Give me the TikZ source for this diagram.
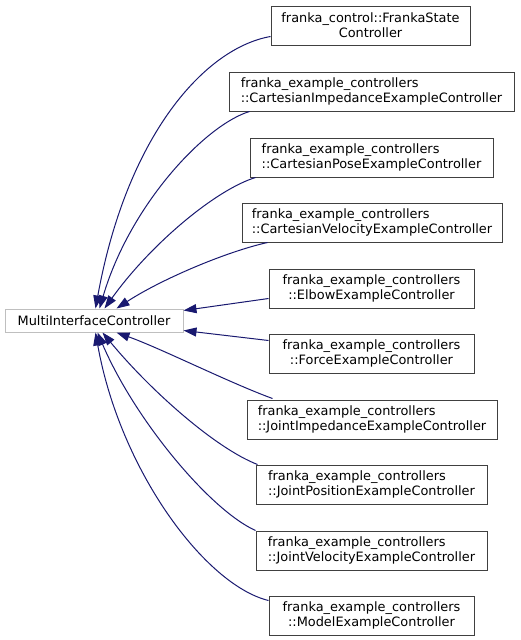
\documentclass[tikz,border=0pt]{standalone}
\usepackage{fontspec}
\setmainfont{DejaVu Sans}
\usetikzlibrary{arrows.meta,calc}
\definecolor{edgeblue}{HTML}{191970}
\definecolor{boxgray}{HTML}{404040}
\definecolor{extgray}{HTML}{BFBFBF}
\begin{document}
\begin{tikzpicture}[x=1pt,y=-1pt,
  every node/.style={font=\fontsize{12.9}{15}\selectfont},
  cls/.style={draw=boxgray,line width=1pt,fill=white,inner sep=0pt,minimum height=39pt,align=center},
  clsl/.style={cls,align=left},
  base/.style={draw=extgray,line width=1pt,fill=white,inner sep=0pt,minimum height=23pt,minimum width=178pt},
  edge/.style={draw=edgeblue,line width=1pt,-{Triangle[length=13pt,width=9pt]}}]
\useasboundingbox[fill=white] (0,0) rectangle (520,640);

\node[base] (L) at (94,320.5) {MultiInterfaceController};

\node[cls,minimum width=199pt] (n1) at (370.5,25.5) {franka\_control::FrankaState\\Controller};
\node[clsl,minimum width=285pt] (n2) at (371.5,91.5) {franka\_example\_controllers\\::CartesianImpedanceExampleController};
\node[clsl,minimum width=243pt] (n3) at (371.5,157.5) {franka\_example\_controllers\\::CartesianPoseExampleController};
\node[clsl,minimum width=260pt] (n4) at (372,222.5) {franka\_example\_controllers\\::CartesianVelocityExampleController};
\node[cls,minimum width=205pt] (n5) at (371.5,288.5) {franka\_example\_controllers\\::ElbowExampleController};
\node[cls,minimum width=205pt] (n6) at (371.5,353.5) {franka\_example\_controllers\\::ForceExampleController};
\node[clsl,minimum width=250pt] (n7) at (372,419.5) {franka\_example\_controllers\\::JointImpedanceExampleController};
\node[clsl,minimum width=231pt] (n8) at (371.5,484.5) {franka\_example\_controllers\\::JointPositionExampleController};
\node[clsl,minimum width=231pt] (n9) at (371.5,550.5) {franka\_example\_controllers\\::JointVelocityExampleController};
\node[cls,minimum width=205pt] (n10) at (371.5,615.5) {franka\_example\_controllers\\::ModelExampleController};

\draw[edge] ($(n1.north west)+(0,31)$) .. controls (205,48) and (127,135) .. ($(L.north west)+(91,0)$);
\draw[edge] ($(n2.south west)+(21,0)$) .. controls (205,125) and (130,205) .. ($(L.north west)+(95,0)$);
\draw[edge] ($(n3.south west)+(6,0)$) .. controls (215,190) and (150,245) .. ($(L.north west)+(100,0)$);
\draw[edge] ($(n4.south west)+(26,0)$) .. controls (225,252) and (160,280) .. ($(L.north west)+(112,0)$);
\draw[edge] ($(n5.north west)+(0,30)$) -- ($(L.north east)+(0,2)$);
\draw[edge] ($(n6.north west)+(0,7)$) -- ($(L.south east)+(0,-2)$);
\draw[edge] ($(n7.north west)+(26,-1)$) .. controls (230,383) and (160,348) .. ($(L.south west)+(112,0)$);
\draw[edge] ($(n8.north west)+(2,0)$) .. controls (215,448) and (150,390) .. ($(L.south west)+(98,0)$);
\draw[edge] (n9.north west) .. controls (210,510) and (135,420) .. ($(L.south west)+(93,0)$);
\draw[edge] ($(n10.north west)+(0,5)$) .. controls (205,585) and (120,470) .. ($(L.south west)+(91,0)$);
\end{tikzpicture}
\end{document}
